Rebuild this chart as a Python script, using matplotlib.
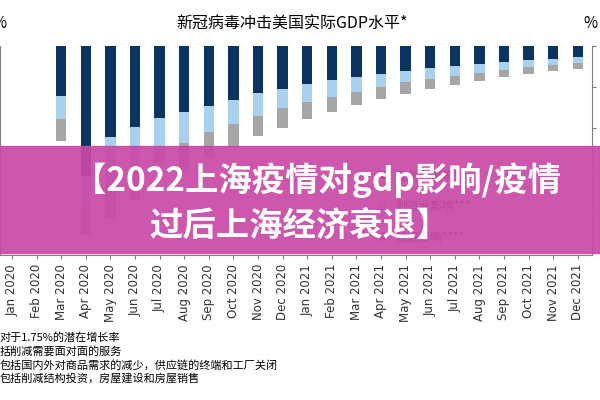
import numpy as np
import matplotlib.pyplot as plt
from matplotlib.patches import Rectangle

plt.rcParams['font.family'] = ['Noto Sans CJK SC', 'DejaVu Sans']

months = ['Jan 2020', 'Feb 2020', 'Mar 2020', 'Apr 2020', 'May 2020', 'Jun 2020',
          'Jul 2020', 'Aug 2020', 'Sep 2020', 'Oct 2020', 'Nov 2020', 'Dec 2020',
          'Jan 2021', 'Feb 2021', 'Mar 2021', 'Apr 2021', 'May 2021', 'Jun 2021',
          'Jul 2021', 'Aug 2021', 'Sep 2021', 'Oct 2021', 'Nov 2021', 'Dec 2021']

# impacts in %, Jan/Feb 2020 have no bar
services = [0, 0, -2.44, -6.3, -4.4, -3.95, -3.5, -3.2, -2.9, -2.6, -2.3, -2.1,
            -1.85, -1.65, -1.5, -1.35, -1.2, -1.07, -0.98, -0.88, -0.78, -0.68, -0.63, -0.54]
manufacturing = [0, 0, -1.12, -1.45, -2.15, -1.85, -1.6, -1.5, -1.3, -1.17, -1.1, -0.93,
                 -0.88, -0.83, -0.73, -0.63, -0.55, -0.54, -0.49, -0.44, -0.39, -0.34, -0.3, -0.29]
investment = [0, 0, -1.07, -1.45, -1.8, -1.7, -0.6, -1.37, -1.22, -1.17, -0.98, -0.93,
              -0.83, -0.73, -0.63, -0.59, -0.59, -0.49, -0.44, -0.39, -0.34, -0.34, -0.3, -0.29]

labels = ['服务业影响**', '制造业影响***', '投资影响****']
notes = ['对于1.75%的潜在增长率',
         '括削减需要面对面的服务',
         '包括国内外对商品需求的减少，供应链的终端和工厂关闭',
         '包括削减结构投资，房屋建设和房屋销售']

fig = plt.figure(figsize=(6, 4), dpi=100)
ax = fig.add_axes([0.0, 1 - 255 / 400, 592 / 600, 209 / 400])

x = np.arange(len(months))
s = np.array(services)
m = np.array(manufacturing)
inv = np.array(investment)
w = 0.42
ax.bar(x, s, w, color='#0B3560', label=labels[0])
ax.bar(x, m, w, bottom=s, color='#A9D1EE', label=labels[1])
ax.bar(x, inv, w, bottom=s + m, color='#A6A6A6', label=labels[2])

ax.set_xlim(-0.49, 23.58)
ax.set_ylim(-10.15, 0)
ax.set_xticks(x)
ax.set_xticklabels(months, rotation=90, fontsize=8.5, family='DejaVu Sans', color='#333333')
ax.yaxis.tick_right()
ax.set_yticks([0, -2, -4, -6, -8, -10])
ax.set_yticklabels([])
ax.tick_params(axis='both', length=3, color='#808080')
for sp in ax.spines.values():
    sp.set_color('#808080')
ax.spines['top'].set_visible(False)

ax.legend(loc='upper left', bbox_to_anchor=(0.62, 0.46), frameon=False,
          fontsize=8.5, handlelength=0.7, handleheight=0.7, labelspacing=1.5)

fig.text(0.487, 0.94, '新冠病毒冲击美国实际GDP水平*', ha='center', va='center', fontsize=11.5)
fig.text(-0.012, 0.94, '%', ha='left', va='center', fontsize=11)
fig.text(0.973, 0.94, '%', ha='left', va='center', fontsize=11)

for i, t in enumerate(notes):
    fig.text(0.0, 1 - (338 + 13.5 * i) / 400, t, ha='left', va='center', fontsize=8)

# magenta banner overlay
fig.patches.append(Rectangle((0, 1 - 253 / 400), 1, 107 / 400, transform=fig.transFigure,
                             color='#C94AA6', alpha=0.93, zorder=5))
fig.text(0.528, 1 - 180 / 400, '【2022上海疫情对gdp影响/疫情', ha='center', va='center',
         fontsize=24, fontweight='bold', color='white', zorder=6)
fig.text(0.50, 1 - 226 / 400, '过后上海经济衰退】', ha='center', va='center',
         fontsize=24, fontweight='bold', color='white', zorder=6)

fig.savefig('out.png', dpi=100)
